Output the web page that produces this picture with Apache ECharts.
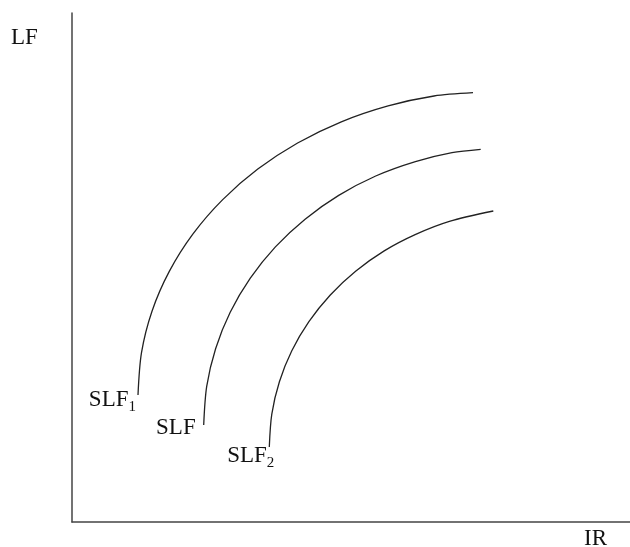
<!DOCTYPE html>
<html>
<head>
<meta charset="utf-8">
<script src="https://cdn.jsdelivr.net/npm/echarts@6/dist/echarts.min.js"></script>
<style>html,body{margin:0;padding:0;background:#fff}#c{width:630px;height:547px}</style>
</head>
<body>
<div id="c"></div>
<script>
// Curve points [IR, LF] in chart units
const slf1 = [[66,127],[69.5,169.3],[80,210.8],[97.3,250.6],[121,288.1],[150.7,322.4],[185.8,352.9],[225.6,379],[269.3,400.2],[316.1,416.1],[362,426],[401,429.3]];
const slf = [[131.7,97],[134.7,135.6],[143.6,173.3],[158.2,209.7],[178.3,243.8],[203.4,275.1],[233.1,302.8],[266.7,326.6],[303.7,346],[343.4,360.4],[380,369.3],[408.7,372.7]];
const slf2 = [[197.3,75],[199.8,107.9],[207.4,140.2],[219.8,171.2],[236.9,200.3],[258.3,227],[283.6,250.7],[312.2,271.1],[343.7,287.6],[377.4,300.6],[421.3,311]];
const curveNames = ['SLF1','SLF','SLF2'];
const curveMain = ['SLF','SLF','SLF'];
const curveSub = ['1','','2'];
const axisNames = {x:'IR', y:'LF'};

const FONT = '"Liberation Serif", "DejaVu Serif", serif';
const chart = echarts.init(document.getElementById('c'));
const curves = [slf1, slf, slf2];

function mkSeries(data, i){
  return {
    name: curveNames[i],
    type: 'line',
    data: data,
    smooth: 0.3,
    symbol: 'none',
    lineStyle: {color: '#222', width: 1.3},
    silent: true,
    animation: false
  };
}

const baseGraphic = [
  {type: 'text', left: 11, top: 26, style: {text: axisNames.y, font: '23px ' + FONT, fill: '#111'}},
  {type: 'text', left: 584, top: 527, style: {text: axisNames.x, font: '23px ' + FONT, fill: '#111'}}
];

chart.setOption({
  backgroundColor: '#fff',
  animation: false,
  grid: {left: 72, right: 0, top: 13, bottom: 25},
  xAxis: {
    type: 'value', min: 0, max: 558,
    axisLine: {show: true, lineStyle: {color: '#444', width: 1.5}},
    axisTick: {show: false}, axisLabel: {show: false}, splitLine: {show: false}
  },
  yAxis: {
    type: 'value', min: 0, max: 509,
    axisLine: {show: true, lineStyle: {color: '#444', width: 1.5}},
    axisTick: {show: false}, axisLabel: {show: false}, splitLine: {show: false}
  },
  graphic: baseGraphic,
  series: curves.map(mkSeries)
});

// Curve labels placed at each curve's lower end via the chart's own scales
const labelShift = [[-2, 5], [-8, 3], [5, 9]];
const labels = curves.map((c, i) => {
  const p = chart.convertToPixel({gridIndex: 0}, c[0]);
  return {
    type: 'text',
    x: p[0] + labelShift[i][0],
    y: p[1] + labelShift[i][1],
    style: {
      text: curveSub[i] ? '{m|' + curveMain[i] + '}{s|' + curveSub[i] + '}' : '{m|' + curveMain[i] + '}',
      align: 'right',
      verticalAlign: 'middle',
      rich: {
        m: {fontFamily: FONT, fontSize: 23, fill: '#111', verticalAlign: 'bottom'},
        s: {fontFamily: FONT, fontSize: 15, fill: '#111', verticalAlign: 'bottom', padding: [0,0,-3,0]}
      }
    }
  };
});
chart.setOption({graphic: baseGraphic.concat(labels)}, {replaceMerge: ['graphic']});
</script>
</body>
</html>
